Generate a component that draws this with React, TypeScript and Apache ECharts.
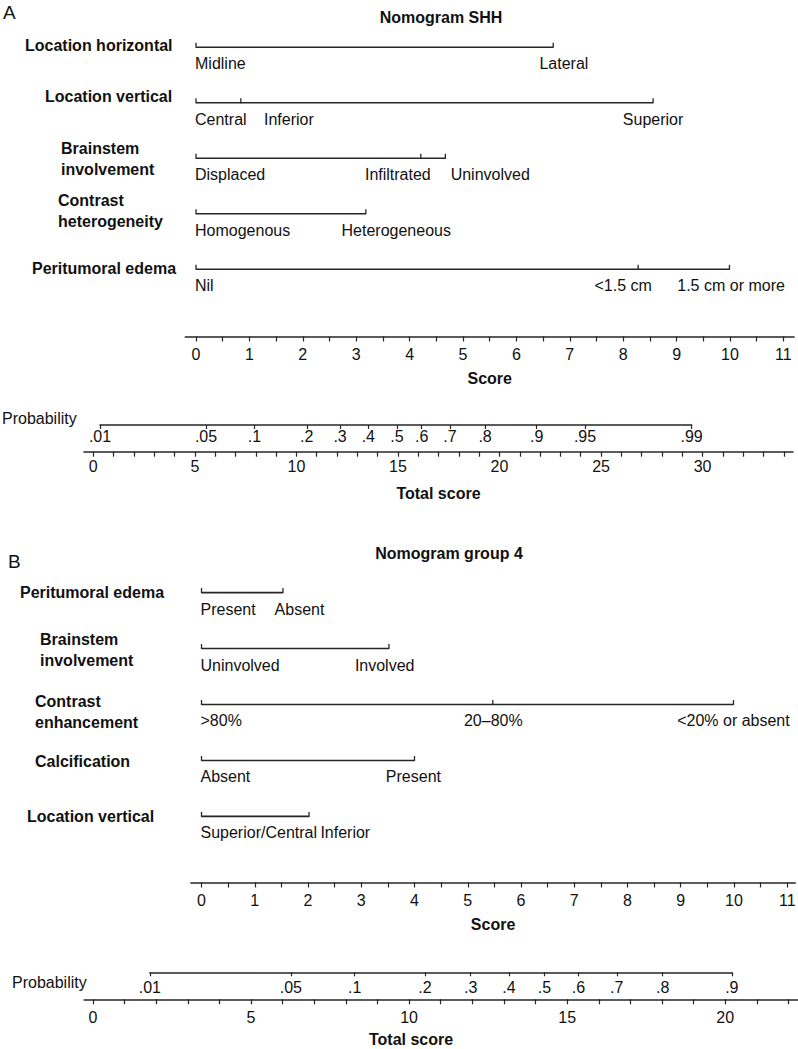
import React, { useEffect, useRef } from 'react';
import * as echarts from 'echarts';

// ---------- Panel A : Nomogram SHH ----------
const SHH_VARIABLES = ['Location horizontal', 'Location vertical', 'Brainstem\ninvolvement', 'Contrast\nheterogeneity', 'Peritumoral edema'];
const SHH_POINTS = [[0, 6.69], [0, 0.84, 8.56], [0, 4.21, 4.67], [0, 3.18], [0, 8.28, 9.99]];
const SHH_LEVELS = [
  ['Midline', 'Lateral'],
  ['Central', 'Inferior', 'Superior'],
  ['Displaced', 'Infiltrated', 'Uninvolved'],
  ['Homogenous', 'Heterogeneous'],
  ['Nil', '<1.5 cm', '1.5 cm or more'],
];
const SHH_LEVEL_AT = [[0, 6.89], [0, 1.74, 8.56], [0, 3.78, 5.51], [0, 3.75], [0, 8.0, 10.02]];
const SHH_PROB_LABELS = ['.01', '.05', '.1', '.2', '.3', '.4', '.5', '.6', '.7', '.8', '.9', '.95', '.99'];
const SHH_PROB_AT = [0.33, 5.55, 7.93, 10.51, 12.15, 13.54, 14.95, 16.17, 17.56, 19.29, 21.83, 24.21, 29.46];
const SHH_TOTAL_TICKS = [0, 1, 2, 3, 4, 5, 6, 7, 8, 9, 10, 11, 12, 13, 14, 15, 16, 17, 18, 19, 20, 21, 22, 23, 24, 25, 26, 27, 28, 29, 30, 31, 32, 33, 34];
const SHH_TOTAL_LABELS = [0, 5, 10, 15, 20, 25, 30];

// ---------- Panel B : Nomogram group 4 ----------
const G4_VARIABLES = ['Peritumoral edema', 'Brainstem\ninvolvement', 'Contrast\nenhancement', 'Calcification', 'Location vertical'];
const G4_POINTS = [[0, 1.53], [0, 3.52], [0, 5.47, 9.99], [0, 4.0], [0, 2.02]];
const G4_LEVELS = [
  ['Present', 'Absent'],
  ['Uninvolved', 'Involved'],
  ['>80%', '20\u201380%', '<20% or absent'],
  ['Absent', 'Present'],
  ['Superior/Central', 'Inferior'],
];
const G4_LEVEL_AT = [[0, 1.84], [0, 3.44], [0, 5.48, 9.99], [0, 3.98], [0, 2.70]];
const G4_PROB_LABELS = ['.01', '.05', '.1', '.2', '.3', '.4', '.5', '.6', '.7', '.8', '.9'];
const G4_PROB_AT = [1.8, 6.26, 8.28, 10.5, 11.95, 13.16, 14.28, 15.36, 16.57, 18.02, 20.21];
const G4_TOTAL_TICKS = [0, 1, 2, 3, 4, 5, 6, 7, 8, 9, 10, 11, 12, 13, 14, 15, 16, 17, 18, 19, 20, 21, 22];
const G4_TOTAL_LABELS = [0, 5, 10, 15, 20];

// ---------- shared score axis ----------
const SCORE_TICKS = [0, 0.5, 1, 1.5, 2, 2.5, 3, 3.5, 4, 4.5, 5, 5.5, 6, 6.5, 7, 7.5, 8, 8.5, 9, 9.5, 10, 10.5, 11];
const SCORE_LABELS = [0, 1, 2, 3, 4, 5, 6, 7, 8, 9, 10, 11];

// ---------- layout (pixels) ----------
const FONT = '"Liberation Sans", Arial, Helvetica, sans-serif';
const INK = '#111111';
const LINE = '#262626';

const A_NAME_X = [25, 45, 61, 58, 32];
const A_NAME_DY = [-2, -6, 1, -3, -1];
const B_NAME_X = [20, 40, 35, 35, 27];
const B_NAME_DY = [0, 1, 8, 1, 0];

// pixel scale of each axis: x of value 0 and pixels per unit
const A_SCORE = { zero: 196, unit: 53.4, min: -0.2, max: 11.2 };
const B_SCORE = { zero: 201.5, unit: 53.25, min: -0.2, max: 11.15 };
const A_TOTAL = { zero: 93.3, unit: 20.31, min: -0.46, max: 34.45 };
const B_TOTAL = { zero: 93, unit: 31.61, min: -0.28, max: 22.3 };

function span(s: { zero: number; unit: number }, min: number, max: number) {
  return { left: s.zero + min * s.unit, width: (max - min) * s.unit };
}

function rowSeries(gi: number, variables: string[], points: number[][], levels: string[][], levelAt: number[][], nameX: number[], nameDy: number[]) {
  return {
    type: 'custom',
    xAxisIndex: gi,
    yAxisIndex: gi,
    clip: false,
    silent: true,
    data: variables.map((_, i) => [0, i]),
    renderItem: (params: any, api: any) => {
      const i = params.dataIndex;
      const pts = points[i];
      const y = api.coord([0, i])[1];
      const xs = pts.map((p) => api.coord([p, i])[0]);
      const children: any[] = [];
      children.push({
        type: 'line',
        shape: { x1: xs[0], y1: y, x2: xs[xs.length - 1], y2: y },
        style: { stroke: LINE, lineWidth: 1.6 },
      });
      xs.forEach((x) => {
        children.push({
          type: 'line',
          shape: { x1: x, y1: y + 0.5, x2: x, y2: y - 4.5 },
          style: { stroke: LINE, lineWidth: 1.3 },
        });
      });
      levels[i].forEach((t, j) => {
        const lx = api.coord([levelAt[i][j], i])[0];
        children.push({
          type: 'text',
          style: {
            text: t, x: j === 0 ? lx - 1 : lx, y: y + 16.5,
            align: j === 0 ? 'left' : 'center', verticalAlign: 'middle',
            fill: INK, fontSize: 16, fontFamily: FONT,
          },
        });
      });
      children.push({
        type: 'text',
        style: {
          text: variables[i], x: nameX[i], y: y + nameDy[i],
          align: 'left', verticalAlign: 'middle', lineHeight: 21,
          fill: INK, fontSize: 16, fontWeight: 'bold', fontFamily: FONT,
        },
      });
      return { type: 'group', children };
    },
  };
}

function axisBase(gridIndex: number, min: number, max: number) {
  return {
    type: 'value',
    gridIndex,
    min,
    max,
    position: 'bottom',
    axisLine: { show: true, onZero: false, lineStyle: { color: LINE, width: 1.6 } },
    splitLine: { show: false },
    nameTextStyle: { color: INK, fontSize: 16, fontWeight: 'bold', fontFamily: FONT },
  };
}

function tickAxis(gridIndex: number, min: number, max: number, ticks: number[], labels: number[], margin: number, offset: number, name: string, nameGap: number, namePad: number[]) {
  return {
    ...axisBase(gridIndex, min, max),
    offset,
    axisTick: { show: true, customValues: ticks, length: 5, lineStyle: { color: LINE, width: 1.2 } },
    axisLabel: {
      show: true, customValues: labels, margin, color: INK, fontSize: 16, fontFamily: FONT,
      showMinLabel: true, showMaxLabel: true,
    },
    name,
    nameLocation: 'middle',
    nameGap,
    nameTextStyle: { color: INK, fontSize: 16, fontWeight: 'bold', fontFamily: FONT, padding: namePad },
  };
}

function probAxis(gridIndex: number, at: number[], labels: string[], margin: number) {
  return {
    ...axisBase(gridIndex, at[0], at[at.length - 1]),
    axisTick: { show: true, customValues: at, length: 4, lineStyle: { color: LINE, width: 1.2 } },
    axisLabel: {
      show: true, customValues: at, margin, color: INK, fontSize: 16, fontFamily: FONT,
      showMinLabel: true, showMaxLabel: true,
      formatter: (v: number) => {
        let best = 0;
        at.forEach((p, k) => { if (Math.abs(p - v) < Math.abs(at[best] - v)) best = k; });
        return labels[best];
      },
    },
  };
}

function hiddenY(gridIndex: number, category?: string[]) {
  if (category) {
    return { type: 'category', gridIndex, data: category, inverse: true, show: false };
  }
  return { type: 'value', gridIndex, min: 0, max: 1, show: false };
}

function buildOption() {
  const aRowsTop = 19.55, aRowsH = 277.5;
  const bRowsTop = 564.6, bRowsH = 279.75;
  const aScoreY = 336.5, bScoreY = 882.5;
  const aProbY = 425, aTotalY = 451.7;
  const bProbY = 972.3, bTotalY = 999.3;

  const gA = span(A_SCORE, A_SCORE.min, A_SCORE.max);
  const gB = span(B_SCORE, B_SCORE.min, B_SCORE.max);
  const pA = span(A_TOTAL, SHH_PROB_AT[0], SHH_PROB_AT[SHH_PROB_AT.length - 1]);
  const tA = span(A_TOTAL, A_TOTAL.min, A_TOTAL.max);
  const pB = span(B_TOTAL, G4_PROB_AT[0], G4_PROB_AT[G4_PROB_AT.length - 1]);
  const tB = span(B_TOTAL, B_TOTAL.min, B_TOTAL.max);

  const g = (box: { left: number; width: number }, top: number, height: number) => ({
    left: box.left, width: box.width, top, height, containLabel: false, outerBoundsMode: 'none',
  });

  const txt = (text: string, x: number, y: number, size: number, bold: boolean, align: string) => ({
    type: 'text', x, y, silent: true,
    style: { text, align, verticalAlign: 'middle', fill: INK, fontSize: size, fontWeight: bold ? 'bold' : 'normal', fontFamily: FONT },
  });

  return {
    animation: false,
    backgroundColor: '#ffffff',
    grid: [
      g(gA, aRowsTop, aRowsH),
      g(pA, aProbY - 1, 1),
      g(tA, aTotalY - 1, 1),
      g(gB, bRowsTop, bRowsH),
      g(pB, bProbY - 1, 1),
      g(tB, bTotalY - 1, 1),
    ],
    xAxis: [
      tickAxis(0, A_SCORE.min, A_SCORE.max, SCORE_TICKS, SCORE_LABELS, 10, aScoreY - (aRowsTop + aRowsH), 'Score', 34, [0, 0, 0, 0]),
      probAxis(1, SHH_PROB_AT, SHH_PROB_LABELS, 3),
      tickAxis(2, A_TOTAL.min, A_TOTAL.max, SHH_TOTAL_TICKS, SHH_TOTAL_LABELS, 7, 0, 'Total score', 34, [0, 0, 0, 0]),
      tickAxis(3, B_SCORE.min, B_SCORE.max, SCORE_TICKS, SCORE_LABELS, 10, bScoreY - (bRowsTop + bRowsH), 'Score', 34, [0, 0, 0, 0]),
      probAxis(4, G4_PROB_AT, G4_PROB_LABELS, 7),
      tickAxis(5, B_TOTAL.min, B_TOTAL.max, G4_TOTAL_TICKS, G4_TOTAL_LABELS, 10, 0, 'Total score', 32, [0, 60, 0, 0]),
    ],
    yAxis: [
      hiddenY(0, SHH_VARIABLES),
      hiddenY(1),
      hiddenY(2),
      hiddenY(3, G4_VARIABLES),
      hiddenY(4),
      hiddenY(5),
    ],
    series: [
      rowSeries(0, SHH_VARIABLES, SHH_POINTS, SHH_LEVELS, SHH_LEVEL_AT, A_NAME_X, A_NAME_DY),
      rowSeries(3, G4_VARIABLES, G4_POINTS, G4_LEVELS, G4_LEVEL_AT, B_NAME_X, B_NAME_DY),
    ],
    graphic: [
      txt('A', 3, 12.5, 19, false, 'left'),
      txt('Nomogram SHH', 441, 17, 16, true, 'center'),
      txt('Probability', 2, 418, 16, false, 'left'),
      txt('B', 8, 561, 19, false, 'left'),
      txt('Nomogram group 4', 449, 553.5, 16, true, 'center'),
      txt('Probability', 12, 982, 16, false, 'left'),
    ],
  };
}

export default function App() {
  const ref = useRef<HTMLDivElement>(null);
  useEffect(() => {
    if (!ref.current) return;
    const chart = echarts.init(ref.current, null, { renderer: 'svg' });
    chart.setOption(buildOption() as any);
    return () => chart.dispose();
  }, []);
  return (
    <div
      ref={ref}
      style={{ position: 'absolute', left: 0, top: 0, width: 798, height: 1049, background: '#ffffff' }}
    />
  );
}
